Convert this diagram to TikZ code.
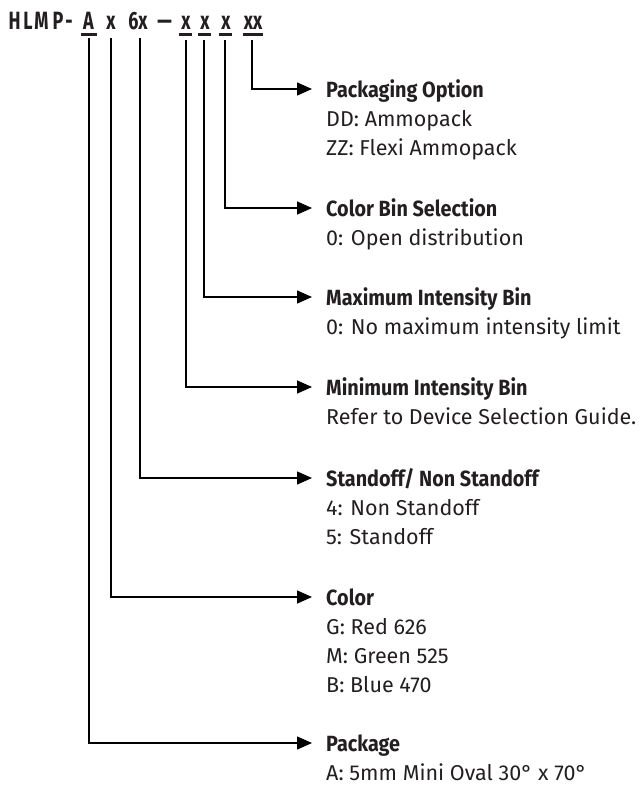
\documentclass[tikz,border=0pt]{standalone}
\usepackage{fontspec}
\usepackage{graphicx}
\setmainfont{Fira Sans}
\newfontfamily\condfont[FakeStretch=0.72]{Fira Sans}
\newfontfamily\headfont[FakeStretch=0.9]{Fira Sans}
\usetikzlibrary{arrows.meta}
\definecolor{ink}{HTML}{231F20}
\tikzset{
  code/.style={font=\condfont\bfseries\fontsize{25}{25}\selectfont, inner sep=0pt, anchor=base, text=ink},
  uline/.style={line width=2.2pt, draw=ink},
  conn/.style={line width=1.5pt, draw=black, -{Triangle[length=15pt,width=13pt]}},
  head/.style={font=\headfont\bfseries\fontsize{22}{24}\selectfont, anchor=west, inner xsep=14pt, inner ysep=0pt, text height=16pt, text depth=0pt, text=ink},
  body/.style={font=\fontsize{21.5}{24}\selectfont, anchor=base west, inner sep=0pt, text=ink}
}
\begin{document}
\begin{tikzpicture}[x=1pt,y=-1pt]
\useasboundingbox (0,0) rectangle (640,785);
% code string
\node[code] (cH) at (14.5,29) {H};
\node[code] (cL) at (28,29) {L};
\node[code] (cM) at (41.5,29) {M};
\node[code] (cP) at (58,29) {P};
\node[code] (cdash) at (69,29) {-};
\node[code] (cA) at (88.5,29) {A};
\node[code] (cx1) at (111,29) {x};
\node[code] (c6x) at (138,29) {6x};
\node[code] (cendash) at (164.5,29) {\scalebox{1.6}[1]{–}};
\node[code] (cx2) at (186,29) {x};
\node[code] (cx3) at (205,29) {x};
\node[code] (cx4) at (226,29) {x};
\node[code] (cxx) at (253,29) {xx};
% underlines
\draw[uline] (81,34.5) -- (97,34.5);
\draw[uline] (179,34.5) -- (192,34.5);
\draw[uline] (198,34.5) -- (211,34.5);
\draw[uline] (219,34.5) -- (232,34.5);
\draw[uline] (243,34.5) -- (263,34.5);
% start points
\coordinate (sA) at (89,38);
\coordinate (sx1) at (111,38);
\coordinate (s6x) at (140,38);
\coordinate (sx2) at (186,40);
\coordinate (sx3) at (204,40);
\coordinate (sx4) at (225,40);
\coordinate (sxx) at (252,40);
% headings
\node[head] (hPkgOpt) at (312,89) {Packaging Option};
\node[body] (b1a) at (326,126) {DD: Ammopack};
\node[body] (b1b) at (326,155) {ZZ: Flexi Ammopack};
\node[head] (hBin) at (312,208) {Color Bin Selection};
\node[body] (b2a) at (326,245) {0: Open distribution};
\node[head] (hMax) at (312,297) {Maximum Intensity Bin};
\node[body] (b3a) at (326,334) {0: No maximum intensity limit};
\node[head] (hMin) at (312,387) {Minimum Intensity Bin};
\node[body] (b4a) at (326,424) {Refer to Device Selection Guide.};
\node[head] (hStand) at (312,478) {Standoff/ Non Standoff};
\node[body] (b5a) at (326,515) {4: Non Standoff};
\node[body] (b5b) at (326,544) {5: Standoff};
\node[head] (hColor) at (312,597) {Color};
\node[body] (b6a) at (326,634) {G: Red 626};
\node[body] (b6b) at (326,663) {M: Green 525};
\node[body] (b6c) at (326,692) {B: Blue 470};
\node[head] (hPkg) at (312,743) {Package};
\node[body] (b7a) at (326,780) {A: 5mm Mini Oval 30° x 70°};
% connectors
\draw[conn] (sxx) |- (hPkgOpt.west);
\draw[conn] (sx4) |- (hBin.west);
\draw[conn] (sx3) |- (hMax.west);
\draw[conn] (sx2) |- (hMin.west);
\draw[conn] (s6x) |- (hStand.west);
\draw[conn] (sx1) |- (hColor.west);
\draw[conn] (sA) |- (hPkg.west);
\end{tikzpicture}
\end{document}
